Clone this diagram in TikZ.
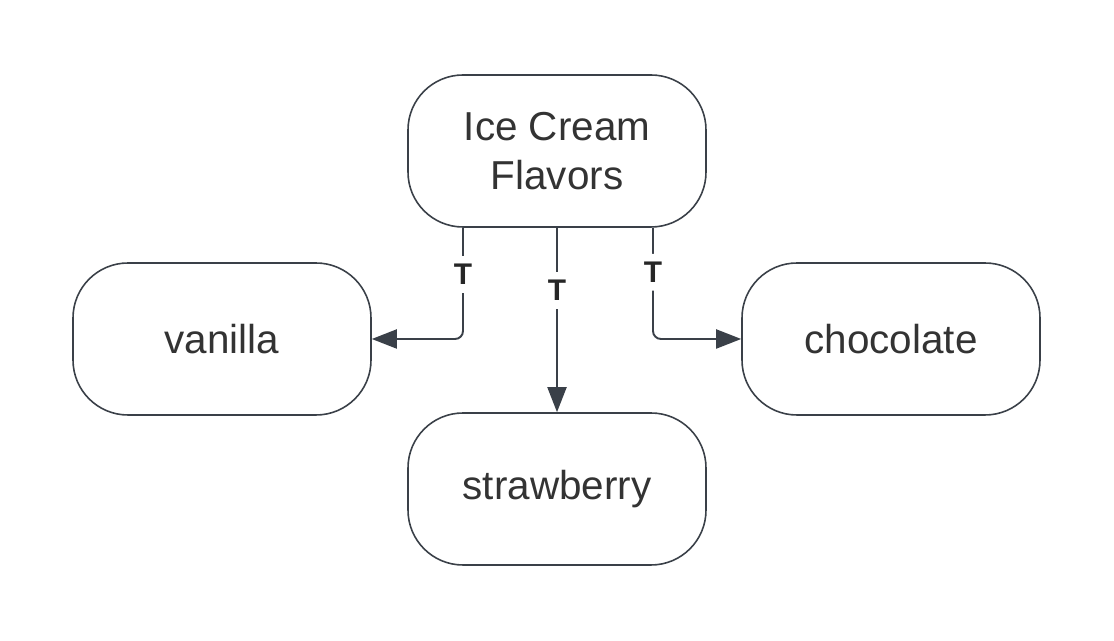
\documentclass[tikz,border=0pt]{standalone}
\usepackage{fontspec}
\setmainfont{Liberation Sans}
\usepackage{tikz}
\usetikzlibrary{arrows.meta}
\usepackage{xcolor}

\definecolor{edge}{HTML}{3A4048}

\begin{document}
\begin{tikzpicture}[
        flavor/.style={draw=edge, line width=0.9pt, rounded corners=1.1cm,
            minimum width=5.96cm, minimum height=3.04cm, align=center,
            font=\fontsize{23}{28}\selectfont, text=black!80},
        link/.style={draw=edge, line width=1.1pt, rounded corners=0.16cm,
            -{Triangle[length=0.5cm, width=0.38cm]}},
        tag/.style={fill=white, inner xsep=1pt, inner ysep=0.16cm,
            font=\bfseries\fontsize{17}{17}\selectfont, text=black!85}
    ]
        \useasboundingbox (0,0) rectangle (22.28,12.82); % 1114 x 641

        \node[flavor] (flavors) at (11.14, 9.80) {Ice Cream\\Flavors};
        \node[flavor] (vanilla) at (4.44, 6.04) {vanilla};
        \node[flavor] (chocolate) at (17.82, 6.04) {chocolate};
        \node[flavor] (strawberry) at (11.14, 3.04) {strawberry};

        \draw[link] ([xshift=-1.88cm]flavors.south) |- node[tag, pos=0.21] {T} (vanilla.east);
        \draw[link] (flavors.south) -- node[tag, pos=0.34] {T} (strawberry.north);
        \draw[link] ([xshift=1.92cm]flavors.south) |- node[tag, pos=0.2] {T} (chocolate.west);
    \end{tikzpicture}
\end{document}
